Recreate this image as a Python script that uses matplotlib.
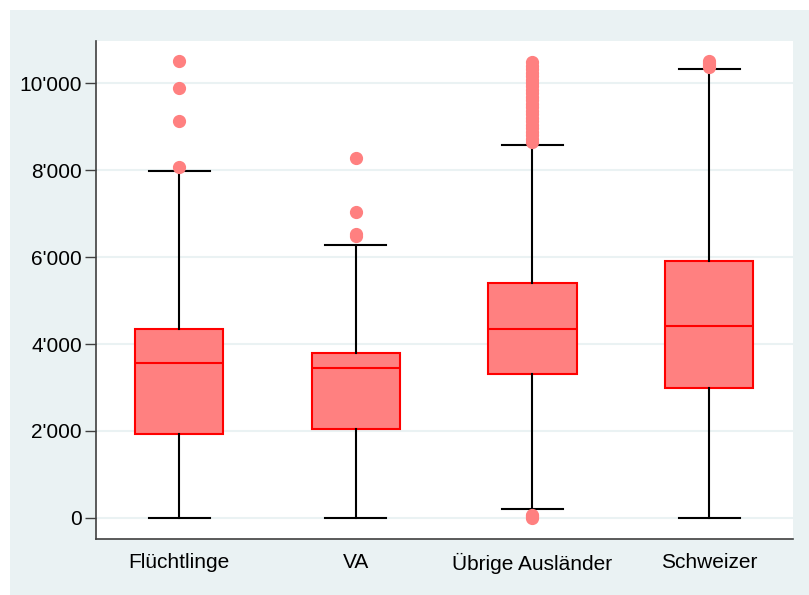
import matplotlib.pyplot as plt
from matplotlib.patches import Rectangle
from matplotlib.ticker import FuncFormatter

plt.rcParams['font.family'] = ['Liberation Sans', 'DejaVu Sans']

groups = ["Flüchtlinge", "VA", "Übrige Ausländer", "Schweizer"]
q1 = [1930, 2045, 3310, 2990]
median = [3565, 3450, 4345, 4415]
q3 = [4345, 3795, 5400, 5910]
whis_lo = [0, 0, 205, 0]
whis_hi = [7980, 6280, 8580, 10320]
outliers = [
    [8070, 9125, 9885, 10505],
    [6480, 6520, 7035, 8275],
    [0, 40, 80,
     8640, 8720, 8800, 8880, 8960, 9040, 9120, 9200, 9280, 9360, 9440,
     9520, 9600, 9680, 9760, 9840, 9920, 10000, 10080, 10160, 10240,
     10320, 10400, 10480],
    [10370, 10420, 10470, 10500],
]
yticks = [0, 2000, 4000, 6000, 8000, 10000]

box_face = "#FF8080"
box_edge = "#FF0000"
bg = "#EAF2F3"

fig = plt.figure(figsize=(8.09, 5.95), dpi=100)
# light outer frame behind the plot region
fig.add_artist(Rectangle((10 / 809, 0), 1, 585 / 595, transform=fig.transFigure,
                         facecolor=bg, edgecolor="none", zorder=-10))
ax = fig.add_axes([96 / 809, 56 / 595, 697 / 809, 498 / 595])

stats = []
for i, name in enumerate(groups):
    stats.append(dict(label=name, q1=q1[i], med=median[i], q3=q3[i],
                      whislo=whis_lo[i], whishi=whis_hi[i], fliers=outliers[i]))

ax.bxp(stats, positions=[1, 2, 3, 4], widths=0.5, patch_artist=True,
       boxprops=dict(facecolor=box_face, edgecolor=box_edge, linewidth=1.5),
       medianprops=dict(color=box_edge, linewidth=1.5),
       whiskerprops=dict(color="black", linewidth=1.5),
       capprops=dict(color="black", linewidth=1.5),
       capwidths=0.345,
       flierprops=dict(marker="o", markerfacecolor=box_face, markeredgecolor=box_face,
                       markersize=8.5))

ax.set_xlim(0.53, 4.475)
ax.set_ylim(-483, 10966)
ax.set_yticks(yticks)
ax.yaxis.set_major_formatter(FuncFormatter(lambda v, p: f"{int(v):,}".replace(",", "'")))
ax.grid(axis="y", color=bg, linewidth=1.5)
ax.set_axisbelow(True)

for side in ("top", "right"):
    ax.spines[side].set_visible(False)
for side in ("left", "bottom"):
    ax.spines[side].set_color("#404040")
    ax.spines[side].set_linewidth(1.2)

ax.tick_params(axis="y", length=8, width=1, color="#404040", labelsize=15, pad=2)
ax.tick_params(axis="x", length=0, labelsize=15, pad=10)

fig.savefig("out.png", dpi=100)
